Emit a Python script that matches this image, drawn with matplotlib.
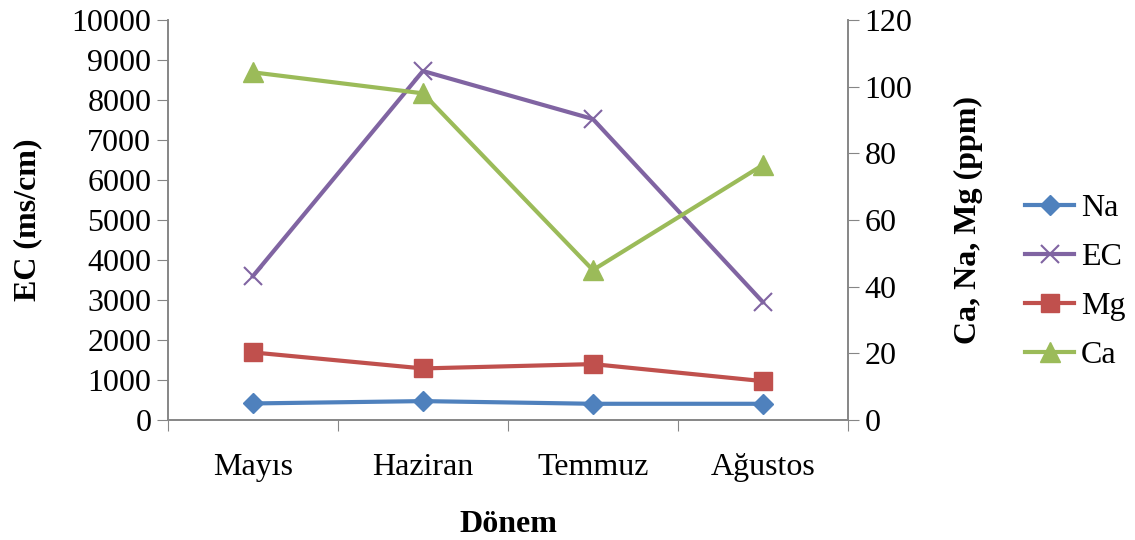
import matplotlib.pyplot as plt
import numpy as np

plt.rcParams['font.family'] = ['Liberation Serif', 'DejaVu Serif']

# data
months = ['Mayıs', 'Haziran', 'Temmuz', 'Ağustos']
ec = [3600, 8725, 7525, 2950]
na = [5.0, 5.7, 4.9, 4.9]
mg = [20.3, 15.5, 16.8, 11.7]
ca = [104.3, 98.0, 45.0, 76.5]

x = np.arange(len(months)) + 0.5
gray = '#868686'
fs = 23

fig = plt.figure(figsize=(11.35, 5.4), dpi=100)
ax = fig.add_axes([0.148, 0.222, 0.599, 0.741])
ax2 = ax.twinx()

l_na, = ax2.plot(x, na, color='#4F81BD', lw=3, marker='D', ms=10, label='Na')
l_ec, = ax.plot(x, ec, color='#8064A2', lw=3, marker='x', ms=13, mew=1.5, label='EC')
l_mg, = ax2.plot(x, mg, color='#C0504D', lw=3, marker='s', ms=13, label='Mg')
l_ca, = ax2.plot(x, ca, color='#9BBB59', lw=3, marker='^', ms=15, label='Ca')

ax.set_xlim(0, 4)
ax.set_ylim(0, 10000)
ax.set_yticks(np.arange(0, 10001, 1000))
ax2.set_ylim(0, 120)
ax2.set_yticks(np.arange(0, 121, 20))

ax.set_xticks([0, 1, 2, 3, 4])
ax.set_xticklabels([])
ax.set_xticks(x, minor=True)
ax.set_xticklabels(months, minor=True)
ax.tick_params(axis='x', which='minor', length=0, pad=24, labelsize=fs)
ax.tick_params(axis='x', which='major', length=8, color=gray, direction='out')
ax.tick_params(axis='y', labelsize=fs, length=8, color=gray, pad=4)
ax2.tick_params(axis='y', labelsize=fs, length=8, color=gray, pad=4)

for a in (ax, ax2):
    a.spines['top'].set_visible(False)
    for s in ('left', 'right', 'bottom'):
        a.spines[s].set_color(gray)
        a.spines[s].set_linewidth(1.2)

ax.set_ylabel('EC (ms/cm)', fontsize=fs, fontweight='bold', labelpad=21)
ax2.set_ylabel('Ca, Na, Mg (ppm)', fontsize=fs, fontweight='bold', labelpad=30)
ax.set_xlabel('Dönem', fontsize=fs, fontweight='bold', labelpad=20)

fig.legend(handles=[l_na, l_ec, l_mg, l_ca], loc='center left',
           bbox_to_anchor=(0.903, 0.478), frameon=False, fontsize=fs,
           handlelength=1.55, labelspacing=0.62, handletextpad=0.2,
           borderpad=0, borderaxespad=0)

plt.savefig('out.png', dpi=100)
